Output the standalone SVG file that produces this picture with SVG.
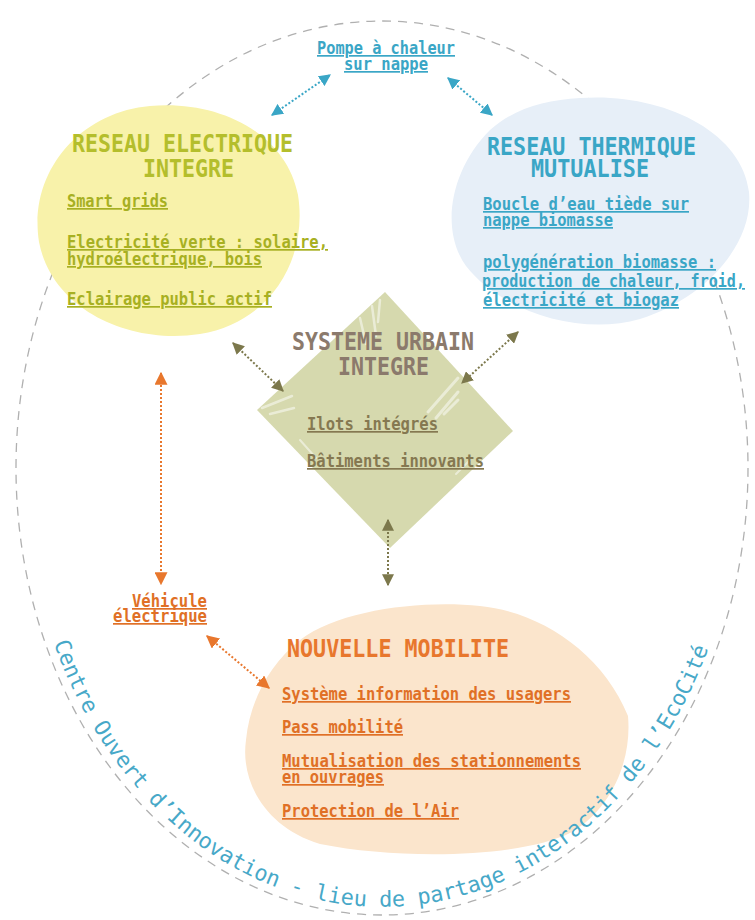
<svg xmlns="http://www.w3.org/2000/svg" width="755" height="920" viewBox="0 0 755 920">
  <style>
    .t { font-family: "DejaVu Sans Mono", "Liberation Mono", monospace; font-weight: bold; font-size: 25px; }
    .i { font-family: "DejaVu Sans Mono", "Liberation Mono", monospace; font-weight: bold; font-size: 17px; text-decoration: underline; }
    .ring { font-family: "DejaVu Sans Mono", "Liberation Mono", monospace; font-size: 21.8px; fill: #47a8c8; }
    .blue { fill: #3aa6c6; }
    .yel-t { fill: #b4be2c; }
    .yel { fill: #a7b022; }
    .brn-t { fill: #8b7a6c; }
    .brn { fill: #857851; }
    .org-t { fill: #e8772d; }
    .org { fill: #e07026; }
    .c { fill: none; stroke-width: 2; stroke-dasharray: 2 2; }
  </style>
  <defs>
    <marker id="ah-blue" viewBox="0 0 10 10" refX="9" refY="5" markerWidth="12" markerHeight="12" markerUnits="userSpaceOnUse" orient="auto-start-reverse">
      <path d="M0,0 L10,5 L0,10 Z" fill="#3aa6c6"/>
    </marker>
    <marker id="ah-olive" viewBox="0 0 10 10" refX="9" refY="5" markerWidth="12" markerHeight="12" markerUnits="userSpaceOnUse" orient="auto-start-reverse">
      <path d="M0,0 L10,5 L0,10 Z" fill="#7c784c"/>
    </marker>
    <marker id="ah-orange" viewBox="0 0 10 10" refX="9" refY="5" markerWidth="13" markerHeight="13" markerUnits="userSpaceOnUse" orient="auto-start-reverse">
      <path d="M0,0 L10,5 L0,10 Z" fill="#e8772d"/>
    </marker>
    <!-- baseline of the lettering that follows the boundary -->
    <path id="ring-path" d="M40.6,600 A358,439 0 0 0 732,560"/>
  </defs>

  <rect width="755" height="920" fill="#ffffff"/>

  <!-- outer dashed boundary -->
  <g id="boundary">
    <ellipse cx="382" cy="468" rx="366" ry="447" fill="none" stroke="#b0b0b0" stroke-width="1.3" stroke-dasharray="9 7"/>
  </g>

  <!-- electric network -->
  <g id="node-electrique">
    <path d="M150,106 C215,100 285,130 298,195 C308,258 272,322 200,334 C130,345 52,310 39,242 C28,172 80,112 150,106 Z" fill="#f8f2aa"/>
    <text class="t yel-t" x="72" y="152" textLength="221" lengthAdjust="spacingAndGlyphs">RESEAU ELECTRIQUE</text>
    <text class="t yel-t" x="143" y="177" textLength="91" lengthAdjust="spacingAndGlyphs">INTEGRE</text>
    <text class="i yel" x="67" y="207" textLength="101" lengthAdjust="spacingAndGlyphs">Smart grids</text>
    <text class="i yel" x="67" y="248" textLength="261" lengthAdjust="spacingAndGlyphs">Electricité verte : solaire,</text>
    <text class="i yel" x="67" y="265" textLength="195" lengthAdjust="spacingAndGlyphs">hydroélectrique, bois</text>
    <text class="i yel" x="67" y="305" textLength="205" lengthAdjust="spacingAndGlyphs">Eclairage public actif</text>
  </g>

  <!-- thermal network -->
  <g id="node-thermique">
    <path d="M580,98 C660,92 742,130 749,192 C754,246 702,300 640,319 C580,336 502,312 466,266 C440,230 450,170 490,130 C515,108 545,100 580,98 Z" fill="#e7eff8"/>
    <text class="t blue" x="487" y="155" textLength="209" lengthAdjust="spacingAndGlyphs">RESEAU THERMIQUE</text>
    <text class="t blue" x="531" y="177" textLength="118" lengthAdjust="spacingAndGlyphs">MUTUALISE</text>
    <text class="i blue" x="483" y="210" textLength="206" lengthAdjust="spacingAndGlyphs">Boucle d’eau tiède sur</text>
    <text class="i blue" x="483" y="226" textLength="130" lengthAdjust="spacingAndGlyphs">nappe biomasse</text>
    <text class="i blue" x="483" y="268" textLength="233" lengthAdjust="spacingAndGlyphs">polygénération biomasse :</text>
    <text class="i blue" x="482" y="287" textLength="263" lengthAdjust="spacingAndGlyphs">production de chaleur, froid,</text>
    <text class="i blue" x="483" y="306" textLength="196" lengthAdjust="spacingAndGlyphs">électricité et biogaz</text>
  </g>

  <!-- heat pump -->
  <g id="node-pompe">
    <text class="i blue" x="386" y="54" text-anchor="middle" textLength="138" lengthAdjust="spacingAndGlyphs">Pompe à chaleur</text>
    <text class="i blue" x="386" y="70" text-anchor="middle" textLength="84" lengthAdjust="spacingAndGlyphs">sur nappe</text>
  </g>

  <!-- integrated urban system -->
  <g id="node-urbain">
    <path d="M385,292 L513,431 L390,548 L257,410 Z" fill="#d6d9ae"/>
    <g fill="none" stroke="#ffffff" stroke-linecap="round" opacity="0.5">
      <path d="M360,318 l6,26 M372,306 l4,30 M380,300 l-2,22" stroke-width="2.5"/>
      <path d="M428,412 l30,-34 M436,418 l22,-26 M444,414 l14,-14" stroke-width="3"/>
      <path d="M262,408 l30,-12 M270,414 l24,-6" stroke-width="2.5"/>
      <path d="M300,440 l16,18 M470,460 l-14,14" stroke-width="2"/>
    </g>
    <text class="t brn-t" x="292" y="350" textLength="182" lengthAdjust="spacingAndGlyphs">SYSTEME URBAIN</text>
    <text class="t brn-t" x="338" y="375" textLength="91" lengthAdjust="spacingAndGlyphs">INTEGRE</text>
    <text class="i brn" x="307" y="430" textLength="131" lengthAdjust="spacingAndGlyphs">Ilots intégrés</text>
    <text class="i brn" x="307" y="467" textLength="177" lengthAdjust="spacingAndGlyphs">Bâtiments innovants</text>
  </g>

  <!-- electric vehicle -->
  <g id="node-vehicule">
    <text class="i org" x="207" y="607" text-anchor="end" textLength="75" lengthAdjust="spacingAndGlyphs">Véhicule</text>
    <text class="i org" x="207" y="622" text-anchor="end" textLength="94" lengthAdjust="spacingAndGlyphs">électrique</text>
  </g>

  <!-- new mobility -->
  <g id="node-mobilite">
    <path d="M300,640 C340,610 420,600 480,606 C540,612 602,652 628,716 C632,760 612,808 572,832 C522,858 400,860 320,844 C266,828 240,782 246,740 C250,700 270,664 300,640 Z" fill="#fbe5cc"/>
    <text class="t org-t" x="287" y="657" textLength="222" lengthAdjust="spacingAndGlyphs">NOUVELLE MOBILITE</text>
    <text class="i org" x="282" y="700" textLength="289" lengthAdjust="spacingAndGlyphs">Système information des usagers</text>
    <text class="i org" x="282" y="733" textLength="121" lengthAdjust="spacingAndGlyphs">Pass mobilité</text>
    <text class="i org" x="282" y="767" textLength="299" lengthAdjust="spacingAndGlyphs">Mutualisation des stationnements</text>
    <text class="i org" x="282" y="783" textLength="102" lengthAdjust="spacingAndGlyphs">en ouvrages</text>
    <text class="i org" x="282" y="817" textLength="177" lengthAdjust="spacingAndGlyphs">Protection de l’Air</text>
  </g>

  <!-- two-way links -->
  <g id="connectors">
    <line class="c" x1="272" y1="115" x2="330" y2="75" stroke="#3aa6c6" marker-start="url(#ah-blue)" marker-end="url(#ah-blue)"/>
    <line class="c" x1="448" y1="78" x2="492" y2="115" stroke="#3aa6c6" marker-start="url(#ah-blue)" marker-end="url(#ah-blue)"/>
    <line class="c" x1="233" y1="343" x2="283" y2="391" stroke="#7c784c" marker-start="url(#ah-olive)" marker-end="url(#ah-olive)"/>
    <line class="c" x1="518" y1="332" x2="462" y2="383" stroke="#7c784c" marker-start="url(#ah-olive)" marker-end="url(#ah-olive)"/>
    <line class="c" x1="388" y1="520" x2="388" y2="585" stroke="#7c784c" marker-start="url(#ah-olive)" marker-end="url(#ah-olive)"/>
    <line class="c" x1="161" y1="373" x2="161" y2="584" stroke="#e8772d" marker-start="url(#ah-orange)" marker-end="url(#ah-orange)"/>
    <line class="c" x1="207" y1="636" x2="269" y2="688" stroke="#e8772d" marker-start="url(#ah-orange)" marker-end="url(#ah-orange)"/>
  </g>

  <!-- lettering along the boundary, one word per run -->
  <g id="boundary-label" class="ring">
    <text><textPath href="#ring-path" startOffset="45">Centre</textPath></text>
    <text><textPath href="#ring-path" startOffset="136.9">Ouvert</textPath></text>
    <text><textPath href="#ring-path" startOffset="228.7">d’Innovation</textPath></text>
    <text><textPath href="#ring-path" startOffset="399.3">-</textPath></text>
    <text><textPath href="#ring-path" startOffset="425.5">lieu</textPath></text>
    <text><textPath href="#ring-path" startOffset="491.1">de</textPath></text>
    <text><textPath href="#ring-path" startOffset="530.5">partage</textPath></text>
    <text><textPath href="#ring-path" startOffset="635.4">interactif</textPath></text>
    <text><textPath href="#ring-path" startOffset="779.7">de</textPath></text>
    <text><textPath href="#ring-path" startOffset="819.1">l’EcoCité</textPath></text>
  </g>
</svg>
